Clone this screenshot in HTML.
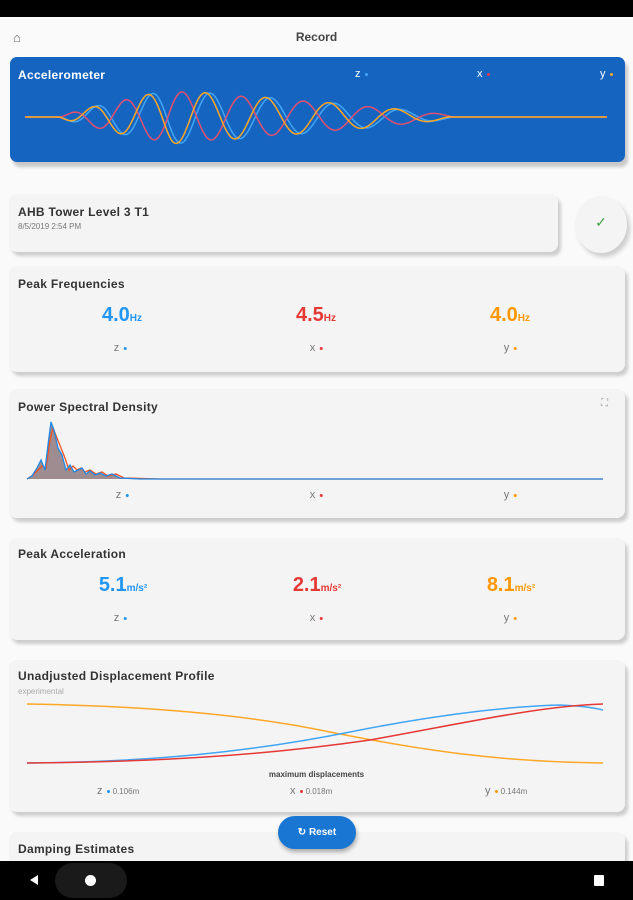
<!DOCTYPE html>
<html><head><meta charset="utf-8"><style>
*{box-sizing:border-box;margin:0;padding:0}
body{width:633px;height:900px;background:#fafafa;font-family:"Liberation Sans",sans-serif;position:relative;overflow:hidden;color:#333}
.abs{position:absolute}
.card{position:absolute;background:#f4f4f4;border-radius:8px;box-shadow:3px 4px 3px rgba(0,0,0,0.18)}
.t{position:absolute;font-weight:bold;font-size:12px;color:#333;letter-spacing:0.3px}
.lbl{position:absolute;font-size:11px;color:#777;transform:translateX(-50%)}
.dot{display:inline-block;width:3px;height:3px;border-radius:50%;margin-left:4px;vertical-align:middle}
.val{position:absolute;font-weight:bold;font-size:20px;transform:translateX(-50%)}
.val small{font-size:10px}
</style></head><body>
<div class="abs" style="left:0;top:0;width:633px;height:17px;background:#000"></div>
<div class="abs" style="left:13px;top:30px;font-size:13px;color:#666">&#8962;</div>
<div class="abs" style="left:0;width:633px;top:30px;text-align:center;font-size:12px;font-weight:bold;color:#444">Record</div>

<div class="abs" style="left:10px;top:57px;width:615px;height:105px;background:#1565c0;border-radius:7px;box-shadow:3px 5px 3px rgba(0,0,0,0.2)"></div>
<div class="t" style="left:18px;top:68px;color:#fff;font-size:12px">Accelerometer</div>
<div class="abs" style="left:355px;top:68px;color:#fff;font-size:11px">z<span class="dot" style="background:#42a5f5"></span></div>
<div class="abs" style="left:477px;top:68px;color:#fff;font-size:11px">x<span class="dot" style="background:#e53950"></span></div>
<div class="abs" style="left:600px;top:68px;color:#fff;font-size:11px">y<span class="dot" style="background:#ffa726"></span></div>
<svg class="abs" style="left:0;top:0" width="633" height="200" id="acc"></svg>

<div class="card" style="left:9px;top:194px;width:549px;height:58px"></div>
<div class="t" style="left:18px;top:205px">AHB Tower Level 3 T1</div>
<div class="abs" style="left:18px;top:222px;font-size:8px;color:#777">8/5/2019 2:54 PM</div>
<div class="abs" style="left:575px;top:196px;width:52px;height:57px;border-radius:50%;background:#f4f4f4;box-shadow:3px 4px 4px rgba(0,0,0,0.18);text-align:center;line-height:52px;color:#43a047;font-size:14px">&#10003;</div>

<div class="card" style="left:9px;top:266px;width:616px;height:106px"></div>
<div class="t" style="left:18px;top:277px">Peak Frequencies</div>
<div class="val" style="left:122px;top:304px;color:#2196f3">4.0<small>Hz</small></div>
<div class="val" style="left:316px;top:304px;color:#e53935">4.5<small>Hz</small></div>
<div class="val" style="left:510px;top:304px;color:#ff9800">4.0<small>Hz</small></div>
<div class="lbl" style="left:120px;top:342px">z<span class="dot" style="background:#2196f3"></span></div>
<div class="lbl" style="left:316px;top:342px">x<span class="dot" style="background:#e53935"></span></div>
<div class="lbl" style="left:510px;top:342px">y<span class="dot" style="background:#ff9800"></span></div>

<div class="card" style="left:9px;top:389px;width:616px;height:129px"></div>
<div class="t" style="left:18px;top:400px">Power Spectral Density</div>
<div class="abs" style="left:601px;top:398px;font-size:10px;color:#999">&#x26F6;</div>
<svg class="abs" style="left:0;top:0" width="633" height="520" id="psd"></svg>
<div class="lbl" style="left:122px;top:489px">z<span class="dot" style="background:#2196f3"></span></div>
<div class="lbl" style="left:316px;top:489px">x<span class="dot" style="background:#e53935"></span></div>
<div class="lbl" style="left:510px;top:489px">y<span class="dot" style="background:#ff9800"></span></div>

<div class="card" style="left:9px;top:538px;width:616px;height:102px"></div>
<div class="t" style="left:18px;top:547px">Peak Acceleration</div>
<div class="val" style="left:123px;top:574px;color:#2196f3">5.1<small>m/s²</small></div>
<div class="val" style="left:317px;top:574px;color:#e53935">2.1<small>m/s²</small></div>
<div class="val" style="left:511px;top:574px;color:#ff9800">8.1<small>m/s²</small></div>
<div class="lbl" style="left:120px;top:612px">z<span class="dot" style="background:#2196f3"></span></div>
<div class="lbl" style="left:316px;top:612px">x<span class="dot" style="background:#e53935"></span></div>
<div class="lbl" style="left:510px;top:612px">y<span class="dot" style="background:#ff9800"></span></div>

<div class="card" style="left:9px;top:660px;width:616px;height:152px"></div>
<div class="t" style="left:18px;top:669px">Unadjusted Displacement Profile</div>
<div class="abs" style="left:18px;top:687px;font-size:8px;color:#aaa">experimental</div>
<svg class="abs" style="left:0;top:0" width="633" height="800">
<path d="M27,704 C150,706 250,715 330,732 C420,750 500,762 603,763" stroke="#ffa726" stroke-width="1.5" fill="none"/>
<path d="M27,763 C150,762 250,752 350,732 C450,712 520,706 560,705 C585,706 595,708 603,710" stroke="#42a5f5" stroke-width="1.5" fill="none"/>
<path d="M27,763 C150,762 260,756 370,740 C470,722 540,706 603,704" stroke="#e53935" stroke-width="1.5" fill="none"/>
</svg>
<div class="abs" style="left:0;width:633px;top:770px;text-align:center;font-size:8px;font-weight:bold;color:#444">maximum displacements</div>
<div class="abs" style="left:97px;top:785px;font-size:11px;color:#777">z<span class="dot" style="background:#2196f3"></span> <span style="font-size:8px">0.106m</span></div>
<div class="abs" style="left:290px;top:785px;font-size:11px;color:#777">x<span class="dot" style="background:#e53935"></span> <span style="font-size:8px">0.018m</span></div>
<div class="abs" style="left:485px;top:785px;font-size:11px;color:#777">y<span class="dot" style="background:#ff9800"></span> <span style="font-size:8px">0.144m</span></div>

<div class="card" style="left:9px;top:832px;width:616px;height:60px"></div>
<div class="t" style="left:18px;top:842px">Damping Estimates</div>
<div class="abs" style="left:278px;top:816px;width:78px;height:33px;border-radius:17px;background:#1976d2;box-shadow:1px 3px 4px rgba(0,0,0,0.3);color:#fff;font-size:10px;font-weight:bold;text-align:center;line-height:33px">&#8635; Reset</div>

<div class="abs" style="left:0;top:861px;width:633px;height:39px;background:#000"></div>
<div class="abs" style="left:55px;top:863px;width:72px;height:35px;border-radius:18px;background:#1a1a1a"></div>
<div class="abs" style="left:30px;top:875px;width:0;height:0;border-top:5px solid transparent;border-bottom:5px solid transparent;border-right:8px solid #fff"></div>
<div class="abs" style="left:85px;top:875px;width:11px;height:11px;border-radius:50%;background:#fff"></div>
<div class="abs" style="left:594px;top:875px;width:10px;height:11px;background:#fff;border-radius:1px"></div>

<script>
function wave(ph,col,amp,env){
  var d="";for(var x=25;x<=608;x+=2){var y=117;
    if(x>60&&x<450){var e=x<170?(x-60)/110:Math.max(0,1-(x-170)/290);e=Math.pow(e,0.8);
      var p=(x-60)/(47+ (x-60)*0.02);y=117+amp*e*Math.sin(p*2*Math.PI/1.0*0.9+ph);}
    d+=(x==25?"M":"L")+x+","+y.toFixed(1);}
  return '<path d="'+d+'" stroke="'+col+'" stroke-width="1.5" fill="none"/>';
}
document.getElementById("acc").innerHTML=wave(0.3,"#42a5f5",27)+wave(3.3,"#e05070",26)+wave(0.8,"#ffa726",27);
var pts=[[27,479],[32,476],[37,468],[41,460],[45,470],[48,445],[51,422],[54,430],[58,448],[62,455],[66,470],[70,465],[74,472],[78,470],[82,468],[86,474],[90,471],[95,475],[100,473],[106,476],[112,474],[120,478],[140,479],[603,479]];
var red=[[27,479],[33,475],[38,470],[42,466],[46,468],[50,440],[53,428],[57,438],[61,448],[65,458],[69,470],[73,466],[77,470],[81,468],[85,472],[90,470],[96,474],[102,472],[108,476],[116,474],[124,478],[160,479],[603,479]];
function pl(a){return a.map(function(p){return p.join(",")}).join(" ")}
document.getElementById("psd").innerHTML='<polygon points="'+pl(pts)+'" fill="#9e8c90"/><polyline points="'+pl(red)+'" stroke="#f4511e" stroke-width="1.3" fill="none"/><polyline points="'+pl(pts)+'" stroke="#1e88e5" stroke-width="1.3" fill="none"/>';
</script>
</body></html>
